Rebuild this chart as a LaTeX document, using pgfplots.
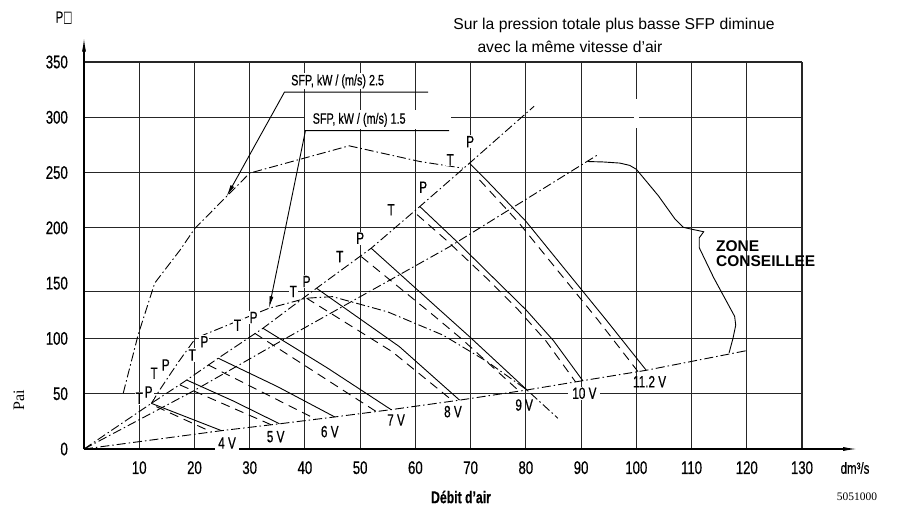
\documentclass[border=0pt]{standalone}
\usepackage{pgfplots}
\pgfplotsset{compat=1.18}
\usetikzlibrary{arrows.meta}
\usepackage{fontspec}
\setmainfont{Liberation Sans}
\newfontfamily\cond[FakeStretch=0.72,FakeBold=0.5]{Liberation Sans}
\newfontfamily\serif{Liberation Serif}
\newfontfamily\symf[FakeStretch=0.6]{DejaVu Sans}
\tikzset{
 dd/.style={line width=0.9bp, mark=none, dash pattern=on 9bp off 3bp on 1.5bp off 3bp},
 sol/.style={line width=0.9bp, mark=none},
 dsh/.style={line width=0.9bp, mark=none, dash pattern=on 9bp off 6bp},
 lab/.style={font=\cond\fontsize{16.3bp}{16.3bp}\selectfont, inner sep=1bp},
}
\begin{document}
\begin{tikzpicture}
\useasboundingbox (0,0) rectangle (898bp,-521bp);
\begin{axis}[at={(84bp,-449bp)}, anchor=south west,
 width=718bp, height=387bp, scale only axis,
 xmin=0, xmax=130, ymin=0, ymax=350, clip=false,
 axis line style={draw=none}, major tick length=0pt,
 xtick={10,20,...,130}, ytick={0,50,...,350},
 xmajorgrids=true, ymajorgrids=false,
 extra y ticks={50,100,142.4,200,250,300,350}, extra y tick labels={},
 extra y tick style={grid=major},
 grid style={black!85, line width=1.1bp},
 /pgf/number format/assume math mode=true,
 ticklabel style={font=\cond\fontsize{18.3bp}{18.3bp}\selectfont, inner sep=0pt},
 xticklabel style={anchor=north, yshift=-12bp},
 yticklabel style={anchor=east, xshift=-16bp}]

% white gaps in the grid
\fill[white] (axis cs:40.1,289.6) rectangle (axis cs:66.4,306.8);
\fill[white] (axis cs:99.5,290.5) rectangle (axis cs:100.5,316.7);

% system line (bottom)
\addplot[dd] coordinates {(0,0)(24.9,16.6)(35.4,22.8)(45.4,29)(55.6,35.6)(68,44.2)(80.2,53.4)(90.3,61.8)(101.8,71.2)(120,89)};
% ray through P points
\addplot[dd] coordinates {(0,0)(12.2,41.3)(18.6,62.4)(24.3,82.1)(32.4,109.2)(42.1,145.4)(52,181.6)(60.8,219.3)(69.8,258.5)(81.5,310)};
% middle ray
\addplot[dd] coordinates {(0,0)(20,53)(36,98.6)(66.2,183)(93,266)};
% SFP 2.5
\addplot[dd] coordinates {(7.1,50.4)(9.8,103.2)(12.8,150)(17.4,180)(20.1,199.7)(25.8,228.3)(30,249.5)(48,274.2)(60.8,260)(68.6,254)};
% SFP 1.5
\addplot[dd] coordinates {(12.2,41.3)(13.7,53.4)(17,78)(20.2,100.2)(33.5,127.3)(40.3,136.4)(45,137.8)(55,124)(65,103)(73,79)(80.2,53.4)(85.8,27.8)};

% fan curves (P, solid)
\addplot[sol] coordinates {(12.2,41.3)(24.9,16.6)};
\addplot[sol] coordinates {(18.6,62.4)(27,43.5)(35.4,22.8)};
\addplot[sol] coordinates {(24.3,82.1)(35,56.5)(45.4,29)};
\addplot[sol] coordinates {(32.4,109.2)(44,73.5)(55.6,35.6)};
\addplot[sol] coordinates {(42.1,145.4)(57.1,92.6)(68,44.2)};
\addplot[sol] coordinates {(52,181.6)(64.4,125.8)(69.8,101.6)(80.2,53.4)};
\addplot[sol] coordinates {(60.8,219.3)(67,190)(74.3,154)(80,126)(85,98)(90.3,61.8)};
\addplot[sol] coordinates {(69.8,258.5)(72.5,245)(80,206)(87,163)(94.5,117)(101.8,71.2)};
% fan curves (T, dashed)
\addplot[dsh] coordinates {(13.1,38.3)(23.1,15.4)};
\addplot[dsh] coordinates {(17.4,57.9)(33.9,21.9)};
\addplot[dsh] coordinates {(22.5,76)(42,26.9)};
\addplot[dsh] coordinates {(30.9,104.7)(52.9,33.9)};
\addplot[dsh] coordinates {(40.3,136.4)(55.8,88)(66.8,43.4)};
\addplot[dsh] coordinates {(50.2,174)(63,122)(68.5,99)(78.8,52.3)};
\addplot[dsh] coordinates {(60.3,212)(65.8,188)(73,154)(78.6,126)(83.6,98)(89,60.7)};
\addplot[dsh] coordinates {(71.6,243.4)(78.5,206)(85.5,163)(93,117)(100.3,70)};

% recommended zone boundary
\addplot[sol] coordinates {(91.2,260)(94,259.6)(97,258.6)(98.8,256.5)(100,253)(104,229)(107,208)(108.5,200.5)(110,198.8)(112.2,196.5)(111.4,191)(111.4,182)(114,155)(116.5,132)(117.8,120)(118,112)(117.5,100)(116.8,87)};

% axes with arrows
\draw[line width=1.2bp, -{Latex[length=14bp,width=4bp]}] (axis cs:0,0) -- (axis cs:0,372);
\draw[line width=1.2bp, -{Latex[length=14bp,width=4bp]}] (axis cs:0,0) -- (axis cs:140,0);

% SFP annotations
\node[font=\cond\fontsize{15bp}{15bp}\selectfont, fill=white, inner sep=1bp, anchor=west] at (axis cs:37.3,332.4) {SFP, kW / (m/s) 2.5};
\node[font=\cond\fontsize{15bp}{15bp}\selectfont, inner sep=1bp, anchor=west] at (axis cs:41.2,297.7) {SFP, kW / (m/s) 1.5};
\draw[line width=0.9bp, -{Latex[length=12bp,width=4bp]}] (axis cs:62.3,322.8) -- (axis cs:36.3,322.8) -- (axis cs:25.8,228.3);
\draw[line width=0.9bp, -{Latex[length=12bp,width=4bp]}] (axis cs:66.1,288) -- (axis cs:40.1,288) -- (axis cs:33.5,127.3);

% T / P labels
\node[lab, fill=white] at (axis cs:10,46) {T};
\node[lab, fill=white] at (axis cs:11.7,51.6) {P};
\node[lab, fill=white] at (axis cs:12.7,68.5) {T};
\node[lab, fill=white] at (axis cs:14.8,76) {P};
\node[lab, fill=white] at (axis cs:19.6,85) {T};
\node[lab, fill=white] at (axis cs:21.8,97) {P};
\node[lab, fill=white] at (axis cs:27.8,112) {T};
\node[lab, fill=white] at (axis cs:30.7,119) {P};
\node[lab, fill=white] at (axis cs:37.9,142.4) {T};
\node[lab, fill=white] at (axis cs:40.3,151.4) {P};
\node[lab, fill=white] at (axis cs:46.3,174) {T};
\node[lab, fill=white] at (axis cs:50,190.7) {P};
\node[lab, fill=white] at (axis cs:55.6,216.3) {T};
\node[lab, fill=white] at (axis cs:61.4,236.8) {P};
\node[lab, fill=white] at (axis cs:66.3,261.5) {T};
\node[lab, fill=white] at (axis cs:69.9,278) {P};
% voltage labels
\node[lab, fill=white, inner xsep=3bp] at (axis cs:25.9,5.4) {4 V};
\node[lab] at (axis cs:34.7,11.1) {5 V};
\node[lab] at (axis cs:44.5,15.7) {6 V};
\node[lab] at (axis cs:56.5,26.2) {7 V};
\node[lab] at (axis cs:66.8,33.8) {8 V};
\node[lab] at (axis cs:79.7,39.8) {9 V};
\node[lab, fill=white, inner xsep=4bp] at (axis cs:90.6,50.4) {10 V};
\node[lab] at (axis cs:102.4,60.9) {11.2 V};
\end{axis}

% free texts
\node[font=\fontsize{15.7bp}{18bp}\selectfont] at (614bp,-25bp) {Sur la pression totale plus basse SFP diminue};
\node[font=\fontsize{15.7bp}{18bp}\selectfont] at (570bp,-47bp) {avec la même vitesse d’air};
\node[font=\bfseries\fontsize{15.5bp}{15bp}\selectfont, align=left, anchor=west, inner sep=0pt] at (716bp,-253.5bp) {ZONE\\CONSEILLEE};
\node[font=\cond\fontsize{16bp}{16bp}\selectfont] at (64bp,-18bp) {P{\symf □}};
\node[font=\serif\fontsize{16bp}{16bp}\selectfont, rotate=90] at (19bp,-400bp) {Pai};
\node[font=\cond\bfseries\fontsize{17bp}{17bp}\selectfont] at (461bp,-497bp) {Débit d’air};
\node[font=\cond\fontsize{16bp}{16bp}\selectfont] at (855bp,-468bp) {dm³/s};
\node[font=\serif\fontsize{11.5bp}{11.5bp}\selectfont] at (857bp,-497bp) {5051000};
\end{tikzpicture}
\end{document}
